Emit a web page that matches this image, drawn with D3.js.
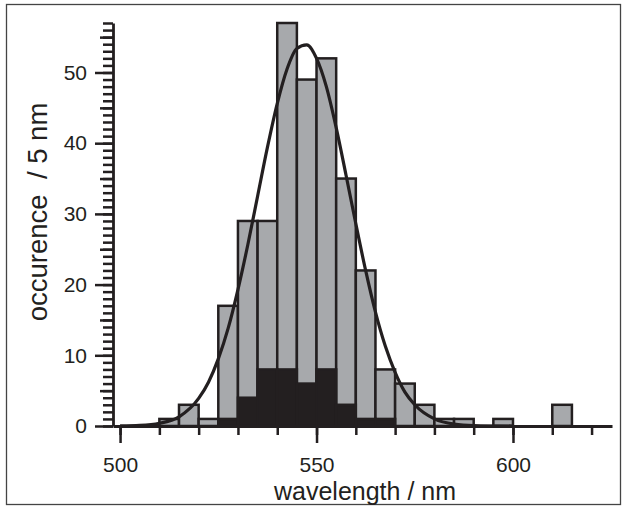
<!DOCTYPE html>
<html>
<head>
<meta charset="utf-8">
<script src="https://cdn.jsdelivr.net/npm/d3@7"></script>
<style>
  body { margin: 0; background: #fff; }
  text { font-family: "Liberation Sans", Arial, Helvetica, sans-serif; fill: #231f20; }
</style>
</head>
<body>
<div id="chart"></div>
<script>
// histogram, 5 nm bins (left edge of each bin)
var binStarts   = [510, 515, 520, 525, 530, 535, 540, 545, 550, 555, 560, 565, 570, 575, 580, 585, 590, 595, 600, 605, 610];
var allCounts   = [1,   3,   1,   17,  29,  29,  57,  49,  52,  35,  22,  8,   6,   3,   1,   1,   0,   1,   0,   0,   3];
var blackCounts = [0,   0,   0,   1,   4,   8,   8,   6,   8,   3,   1,   1,   0,   0,   0,   0,   0,   0,   0,   0,   0];

// fitted curve
var fitWavelengths = [500, 505, 510, 515, 520, 522.5, 525, 527.5, 530, 532.5, 535, 537.5, 540, 542.5, 545, 547.5, 550, 552.5, 555, 557.5, 560, 562.5, 565, 567.5, 570, 572.5, 575, 580, 585, 590, 600];
var fitValues      = [0.02, 0.09, 0.38, 1.3, 3.9, 6.2, 9.5, 13.8, 19.3, 25.6, 32.5, 39.4, 45.6, 50.5, 53.4, 53.9, 52.0, 48.0, 42.2, 35.5, 28.6, 22.0, 16.1, 11.3, 7.6, 4.8, 3.0, 1.0, 0.26, 0.06, 0];

var xMajorTicks = [500, 550, 600];
var yMajorTicks = [0, 10, 20, 30, 40, 50];

var width = 625,
    height = 513,
    binWidth = 5,
    ink = "#231f20";

var x = d3.scaleLinear().domain([498.2, 625.2]).range([113, 612]);
var y = d3.scaleLinear().domain([0, 57]).range([426, 23]);

var svg = d3.select("#chart")
  .append("svg")
  .attr("width", width)
  .attr("height", height);

// outer frame
svg.append("rect")
  .attr("x", 6.5)
  .attr("y", 4.5)
  .attr("width", 614)
  .attr("height", 500)
  .style("fill", "none")
  .style("stroke", "#444")
  .style("stroke-width", 1.3);

var bins = binStarts.map(function(d, i) {
  return { start: d, all: allCounts[i], black: blackCounts[i] };
});

function drawBars(key, fill) {
  svg.append("g")
    .selectAll("rect")
    .data(bins.filter(function(d) { return d[key] > 0; }))
    .enter()
    .append("rect")
    .attr("x", function(d) { return x(d.start); })
    .attr("width", function(d) { return x(d.start + binWidth) - x(d.start); })
    .attr("y", function(d) { return y(d[key]); })
    .attr("height", function(d) { return y(0) - y(d[key]); })
    .style("fill", fill)
    .style("stroke", ink)
    .style("stroke-width", 2.5);
}
drawBars("all", "#a7a9ac");
drawBars("black", ink);

var line = d3.line()
  .x(function(d, i) { return x(d); })
  .y(function(d, i) { return y(fitValues[i]); })
  .curve(d3.curveMonotoneX);

svg.append("path")
  .attr("d", line(fitWavelengths))
  .style("fill", "none")
  .style("stroke", ink)
  .style("stroke-width", 3.2);

// x axis: minor ticks every 10 nm, long ticks with labels every 50
var xMinor = svg.append("g")
  .attr("transform", "translate(0,426)")
  .call(d3.axisBottom(x).tickValues(d3.range(500, 621, 10)).tickSize(9).tickSizeOuter(0).tickFormat(""));
var xMajor = svg.append("g")
  .attr("transform", "translate(0,426)")
  .call(d3.axisBottom(x).tickValues(xMajorTicks).tickSize(17).tickPadding(14).tickFormat(d3.format("d")));
xMajor.select(".domain").remove();

// y axis: minor every 1, medium every 5, long every 10
var yMinor = svg.append("g")
  .attr("transform", "translate(113,0)")
  .call(d3.axisLeft(y).tickValues(d3.range(0, 58, 1)).tickSize(10).tickSizeOuter(0).tickFormat(""));
var yMid = svg.append("g")
  .attr("transform", "translate(113,0)")
  .call(d3.axisLeft(y).tickValues(d3.range(5, 56, 10)).tickSize(13).tickFormat(""));
yMid.select(".domain").remove();
var yMajor = svg.append("g")
  .attr("transform", "translate(113,0)")
  .call(d3.axisLeft(y).tickValues(yMajorTicks).tickSize(18).tickPadding(8).tickFormat(d3.format("d")));
yMajor.select(".domain").remove();

svg.selectAll(".tick line").style("stroke", ink).style("stroke-width", 2.5);
svg.selectAll(".domain").style("stroke", ink).style("stroke-width", 2.8);
xMinor.select(".domain").style("stroke-width", 3.2);
svg.selectAll(".tick text")
  .style("font-family", "'Liberation Sans', Arial, sans-serif")
  .style("font-size", "21px")
  .style("fill", ink);

// axis titles
svg.append("text")
  .attr("x", 365)
  .attr("y", 500)
  .attr("text-anchor", "middle")
  .style("font-size", "25px")
  .text("wavelength / nm");

svg.append("text")
  .attr("transform", "translate(47,212) rotate(-90)")
  .attr("text-anchor", "middle")
  .style("font-size", "27.5px")
  .style("white-space", "pre")
  .text("occurence  / 5 nm");
</script>
</body>
</html>
